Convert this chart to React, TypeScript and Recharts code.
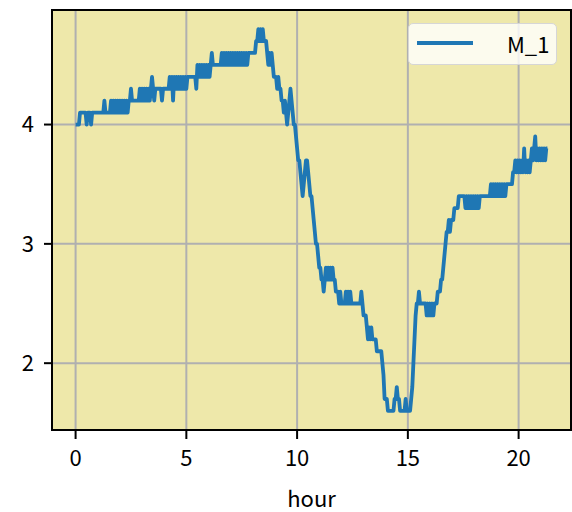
import React from 'react';
import {
  LineChart, Line, XAxis, YAxis, CartesianGrid, ReferenceArea, Legend,
} from 'recharts';

// M_1 readings, one every 3 minutes, starting at hour 0
const STEP_MIN = 3;

const m1: number[] = [
  // 0h
  4.0, 4.0, 4.0, 4.0, 4.1, 4.1, 4.1, 4.1, 4.1, 4.1, 4.0, 4.1, 4.1, 4.1, 4.0, 4.1, 4.1, 4.1, 4.1, 4.1,
  // 1h
  4.1, 4.1, 4.1, 4.1, 4.1, 4.1, 4.2, 4.1, 4.1, 4.1, 4.1, 4.1, 4.2, 4.1, 4.2, 4.1, 4.2, 4.1, 4.2, 4.1,
  // 2h
  4.2, 4.1, 4.2, 4.1, 4.2, 4.1, 4.2, 4.1, 4.2, 4.2, 4.3, 4.2, 4.2, 4.2, 4.2, 4.2, 4.2, 4.2, 4.3, 4.2,
  // 3h
  4.3, 4.2, 4.3, 4.2, 4.3, 4.2, 4.3, 4.2, 4.3, 4.4, 4.3, 4.2, 4.3, 4.3, 4.3, 4.3, 4.3, 4.3, 4.2, 4.3,
  // 4h
  4.3, 4.3, 4.3, 4.3, 4.3, 4.4, 4.3, 4.4, 4.2, 4.4, 4.3, 4.4, 4.3, 4.4, 4.3, 4.4, 4.3, 4.4, 4.3, 4.4,
  // 5h
  4.3, 4.4, 4.4, 4.4, 4.4, 4.4, 4.4, 4.4, 4.4, 4.3, 4.5, 4.4, 4.5, 4.4, 4.5, 4.4, 4.5, 4.4, 4.5, 4.4,
  // 6h
  4.5, 4.4, 4.5, 4.6, 4.5, 4.5, 4.5, 4.5, 4.5, 4.5, 4.5, 4.5, 4.6, 4.5, 4.6, 4.5, 4.6, 4.5, 4.6, 4.5,
  // 7h
  4.6, 4.5, 4.6, 4.5, 4.6, 4.5, 4.6, 4.5, 4.6, 4.5, 4.6, 4.5, 4.6, 4.5, 4.6, 4.5, 4.6, 4.6, 4.6, 4.6,
  // 8h
  4.6, 4.6, 4.6, 4.7, 4.7, 4.8, 4.7, 4.8, 4.7, 4.8, 4.7, 4.7, 4.7, 4.6, 4.5, 4.6, 4.5, 4.6, 4.5, 4.4,
  // 9h
  4.4, 4.4, 4.3, 4.4, 4.3, 4.3, 4.2, 4.2, 4.1, 4.2, 4.1, 4.0, 4.1, 4.2, 4.3, 4.2, 4.1, 4.0, 4.0, 3.9,
  // 10h
  3.8, 3.7, 3.7, 3.6, 3.5, 3.4, 3.5, 3.6, 3.7, 3.7, 3.6, 3.5, 3.4, 3.4, 3.3, 3.2, 3.1, 3.0, 3.0, 2.9,
  // 11h
  2.8, 2.8, 2.7, 2.7, 2.6, 2.7, 2.8, 2.7, 2.8, 2.7, 2.8, 2.7, 2.8, 2.7, 2.7, 2.6, 2.6, 2.6, 2.5, 2.6,
  // 12h
  2.5, 2.5, 2.5, 2.5, 2.6, 2.5, 2.6, 2.5, 2.6, 2.5, 2.5, 2.5, 2.5, 2.5, 2.5, 2.5, 2.5, 2.5, 2.6, 2.5,
  // 13h
  2.4, 2.4, 2.4, 2.3, 2.2, 2.3, 2.2, 2.3, 2.2, 2.2, 2.2, 2.2, 2.1, 2.1, 2.1, 2.1, 2.1, 2.0, 1.9, 1.7,
  // 14h
  1.7, 1.7, 1.6, 1.6, 1.6, 1.6, 1.6, 1.6, 1.7, 1.7, 1.8, 1.7, 1.7, 1.6, 1.6, 1.6, 1.6, 1.6, 1.7, 1.6,
  // 15h
  1.6, 1.6, 1.6, 1.7, 1.8, 2.0, 2.2, 2.4, 2.5, 2.5, 2.6, 2.5, 2.5, 2.5, 2.5, 2.5, 2.5, 2.4, 2.5, 2.4,
  // 16h
  2.5, 2.4, 2.5, 2.4, 2.5, 2.5, 2.5, 2.6, 2.6, 2.6, 2.7, 2.7, 2.8, 2.9, 3.0, 3.1, 3.1, 3.2, 3.1, 3.2,
  // 17h
  3.2, 3.2, 3.3, 3.3, 3.3, 3.3, 3.4, 3.4, 3.4, 3.4, 3.4, 3.4, 3.3, 3.4, 3.3, 3.4, 3.3, 3.4, 3.3, 3.4,
  // 18h
  3.3, 3.4, 3.3, 3.4, 3.3, 3.4, 3.4, 3.4, 3.4, 3.4, 3.4, 3.4, 3.4, 3.4, 3.4, 3.5, 3.4, 3.5, 3.4, 3.5,
  // 19h
  3.4, 3.5, 3.4, 3.5, 3.4, 3.5, 3.4, 3.5, 3.4, 3.5, 3.5, 3.5, 3.5, 3.5, 3.5, 3.6, 3.6, 3.7, 3.6, 3.7,
  // 20h
  3.6, 3.7, 3.6, 3.7, 3.6, 3.8, 3.6, 3.7, 3.6, 3.7, 3.6, 3.7, 3.8, 3.7, 3.8, 3.9, 3.7, 3.8, 3.7, 3.8,
  // 21h
  3.7, 3.8, 3.7, 3.8, 3.7, 3.8, 3.8,
];

const xTicks = [0, 5, 10, 15, 20];
const yTicks = [2, 3, 4];

const X_DOMAIN: [number, number] = [-1.065, 22.365];
const Y_DOMAIN: [number, number] = [1.44, 4.96];

const rows = m1.map((v, i) => ({ hour: (i * STEP_MIN) / 60, m1: v }));

const font = '"Noto Sans CJK JP", "Noto Sans", sans-serif';
const tickStyle = { fill: '#000', fontSize: 22, fontFamily: font };
const axisLine = { stroke: '#000', strokeWidth: 2 };

const LegendBox = (props: any) => {
  const item = (props.payload || [])[0];
  return (
    <div
      style={{
        position: 'relative',
        width: 147,
        height: 40,
        border: '1px solid #d6d6d6',
        borderRadius: 5,
        background: 'rgba(255,255,255,0.8)',
        fontFamily: font,
        fontSize: 22,
        color: '#000',
      }}
    >
      <svg width={60} height={8} style={{ position: 'absolute', left: 8, top: 15 }}>
        <line x1={0} y1={4} x2={56} y2={4} stroke="#1f77b4" strokeWidth={3.8} />
      </svg>
      <span style={{ position: 'absolute', left: 98, top: 3, lineHeight: '32px' }}>
        {item ? item.value : 'M_1'}
      </span>
    </div>
  );
};

export default function App() {
  return (
    <div style={{ position: 'absolute', left: 0, top: 0, background: '#fff' }}>
      <LineChart
        width={572}
        height={512}
        data={rows}
        margin={{ top: 10, right: 1, bottom: 0, left: 0 }}
      >
        <CartesianGrid fill="#EEE8AA" fillOpacity={1} stroke="#b0b0b0" strokeWidth={2} />

        <XAxis
          dataKey="hour"
          type="number"
          domain={X_DOMAIN}
          ticks={xTicks}
          allowDataOverflow
          height={82}
          tickSize={9}
          tickMargin={11}
          axisLine={axisLine}
          tickLine={axisLine}
          tick={tickStyle}
          label={{ value: 'hour', position: 'insideBottom', offset: 5, fill: '#000', fontSize: 22, fontFamily: font }}
        />

        <YAxis
          type="number"
          domain={Y_DOMAIN}
          ticks={yTicks}
          allowDataOverflow
          width={52}
          tickSize={8}
          tickMargin={10}
          axisLine={axisLine}
          tickLine={axisLine}
          tick={tickStyle}
        />

        <ReferenceArea
          x1={X_DOMAIN[0]}
          x2={X_DOMAIN[1]}
          y1={Y_DOMAIN[0]}
          y2={Y_DOMAIN[1]}
          fill="none"
          stroke="#000"
          strokeWidth={2}
          ifOverflow="visible"
        />

        <Legend
          layout="horizontal"
          verticalAlign="middle"
          align="center"
          content={LegendBox}
          wrapperStyle={{ position: 'absolute', left: 408, top: 23, width: 149, height: 42 }}
        />

        <Line
          type="linear"
          dataKey="m1"
          name="M_1"
          stroke="#1f77b4"
          strokeWidth={3.8}
          strokeLinejoin="round"
          dot={false}
          activeDot={false}
          isAnimationActive={false}
        />
      </LineChart>
    </div>
  );
}
